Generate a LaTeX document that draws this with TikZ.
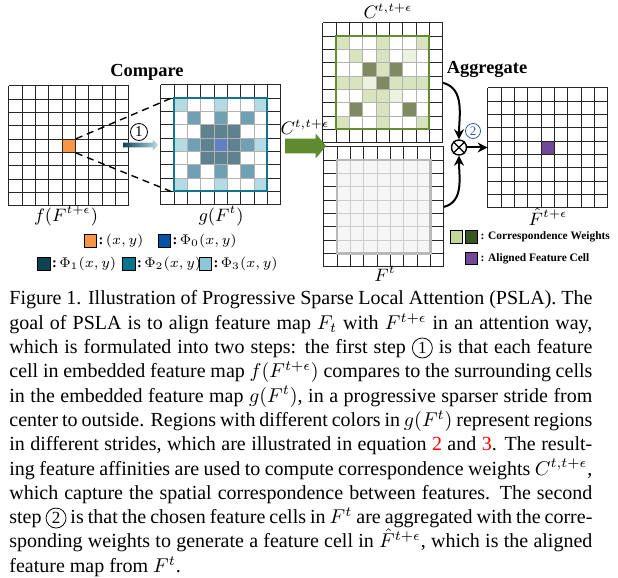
\documentclass[tikz,border=0pt]{standalone}
\usepackage{fontspec}
\setmainfont{Liberation Serif}
\usepackage{tikz}
\usetikzlibrary{positioning, shapes.arrows, arrows.meta}

\definecolor{keyorange}{RGB}{247,150,70}
\definecolor{phizero}{RGB}{0,82,164}
\definecolor{phione}{RGB}{12,68,84}
\definecolor{phitwo}{RGB}{0,118,140}
\definecolor{phithree}{RGB}{140,200,216}
\definecolor{gzero}{RGB}{96,128,196}
\definecolor{gone}{RGB}{94,130,144}
\definecolor{gtwo}{RGB}{112,160,180}
\definecolor{gthree}{RGB}{180,218,228}
\definecolor{gwinline}{RGB}{20,118,142}
\definecolor{wlight}{RGB}{215,228,190}
\definecolor{wfaint}{RGB}{236,242,224}
\definecolor{wdark}{RGB}{127,138,96}
\definecolor{wline}{RGB}{100,140,50}
\definecolor{flowgreen}{RGB}{96,138,46}
\definecolor{keylight}{RGB}{196,215,155}
\definecolor{keydark}{RGB}{55,86,35}
\definecolor{keypurple}{RGB}{112,72,150}
\definecolor{stepblue}{RGB}{50,90,170}

\tikzset{
	gridline/.style={line width=0.5pt, black!85},
	innerline/.style={line width=0.5pt, gray!60},
	mapbox/.style={rectangle, minimum size=59.85pt, inner sep=0pt},
	cellbox/.style={rectangle, minimum size=6.65pt, inner sep=0pt},
	winbox/.style={rectangle, draw, line width=1pt, minimum size=46.55pt, inner sep=0pt},
	keybox/.style={rectangle, draw, line width=0.4pt, minimum size=6.3pt, inner sep=0pt},
	keytext/.style={inner sep=0.5pt, font=\fontsize{7.2}{8}\selectfont},
	smallkey/.style={inner sep=1pt, font=\bfseries\fontsize{5.7}{6}\selectfont},
	maplabel/.style={inner sep=1pt, font=\fontsize{9}{10}\selectfont},
	flow/.style={-{Stealth[length=5pt, width=5pt]}, line width=1pt},
	stepnum/.style={circle, draw, inner sep=0pt, minimum size=8.5pt, font=\fontsize{7.5}{8}\selectfont},
	title/.style={font=\bfseries\fontsize{9.2}{10}\selectfont}
}

\newcommand\stepcirc[1]{\tikz[baseline=(sc.base)] \node[circle, draw, line width=0.4pt, inner sep=0pt, minimum size=10pt] (sc) {\fontsize{8.5}{9}\selectfont #1};}

\begin{document}
\begin{tikzpicture}[x=0.5pt, y=-0.5pt]
\useasboundingbox (0,0) rectangle (618,578);

% f(F^{t+e})
\begin{scope}[shift={(9,86)}]
\node[mapbox] (fmap) at (59.85,59.85) {};
\node[cellbox, fill=keyorange] (fcell) at (59.85,59.85) {};
\foreach \k in {0, ..., 9} {
	\draw[gridline] (\k*13.3,0) -- (\k*13.3,119.7);
	\draw[gridline] (0,\k*13.3) -- (119.7,\k*13.3);
}
\end{scope}

% g(F^t)
\begin{scope}[shift={(161,85)}]
\node[mapbox] (gmap) at (59.85,59.85) {};
\foreach \i/\j/\c in {1/1/gthree, 4/1/gthree, 7/1/gthree, 1/4/gthree, 7/4/gthree, 1/7/gthree, 4/7/gthree, 7/7/gthree,
	2/2/gtwo, 4/2/gtwo, 6/2/gtwo, 2/4/gtwo, 6/4/gtwo, 2/6/gtwo, 4/6/gtwo, 6/6/gtwo,
	3/3/gone, 4/3/gone, 5/3/gone, 3/4/gone, 5/4/gone, 3/5/gone, 4/5/gone, 5/5/gone, 4/4/gzero}
	\fill[\c] (\i*13.3,\j*13.3) rectangle ++(13.3,13.3);
\foreach \k in {0, ..., 9} {
	\draw[gridline] (\k*13.3,0) -- (\k*13.3,119.7);
	\draw[gridline] (0,\k*13.3) -- (119.7,\k*13.3);
}
\foreach \k in {2, ..., 7} {
	\draw[innerline] (\k*13.3,13.3) -- (\k*13.3,106.4);
	\draw[innerline] (13.3,\k*13.3) -- (106.4,\k*13.3);
}
\node[winbox, draw=gwinline] (gwin) at (59.85,59.85) {};
\end{scope}

% C^{t,t+e}
\begin{scope}[shift={(323,23)}]
\node[mapbox] (cmap) at (59.85,59.85) {};
\foreach \i/\j/\c in {1/1/wlight, 4/1/wlight, 7/1/wlight, 2/2/wlight, 4/2/wlight, 6/2/wfaint,
	3/3/wdark, 4/3/wlight, 5/3/wdark, 1/4/wlight, 2/4/wlight, 3/4/wfaint, 4/4/wdark, 5/4/wlight, 6/4/wlight, 7/4/wlight,
	3/5/wlight, 4/5/wlight, 5/5/wfaint, 2/6/wdark, 4/6/wlight, 6/6/wdark, 1/7/wlight, 4/7/wlight, 7/7/wlight}
	\fill[\c] (\i*13.3,\j*13.3) rectangle ++(13.3,13.3);
\foreach \k in {0, ..., 9} {
	\draw[gridline] (\k*13.3,0) -- (\k*13.3,119.7);
	\draw[gridline] (0,\k*13.3) -- (119.7,\k*13.3);
}
\foreach \k in {2, ..., 7} {
	\draw[innerline] (\k*13.3,13.3) -- (\k*13.3,106.4);
	\draw[innerline] (13.3,\k*13.3) -- (106.4,\k*13.3);
}
\node[winbox, draw=wline] (cwin) at (59.85,59.85) {};
\end{scope}

% F^t
\begin{scope}[shift={(324,147)}]
\node[mapbox] (tmap) at (59.85,59.85) {};
\fill[gray!7] (13.3,13.3) rectangle (106.4,106.4);
\foreach \k in {0, ..., 9} {
	\draw[gridline] (\k*13.3,0) -- (\k*13.3,119.7);
	\draw[gridline] (0,\k*13.3) -- (119.7,\k*13.3);
}
\foreach \k in {2, ..., 7} {
	\draw[innerline, gray!40] (\k*13.3,13.3) -- (\k*13.3,106.4);
	\draw[innerline, gray!40] (13.3,\k*13.3) -- (106.4,\k*13.3);
}
\draw[line width=1.2pt, gray!55] (13.3,13.3) rectangle (106.4,106.4);
\end{scope}

% hat F^{t+e}
\begin{scope}[shift={(488,88)}]
\node[mapbox] (omap) at (59.85,59.85) {};
\node[cellbox, fill=keypurple] (ocell) at (59.85,59.85) {};
\foreach \k in {0, ..., 9} {
	\draw[gridline] (\k*13.3,0) -- (\k*13.3,119.7);
	\draw[gridline] (0,\k*13.3) -- (119.7,\k*13.3);
}
\end{scope}

\draw[line width=0.7pt, dash pattern=on 3.5pt off 2.5pt] (fcell.north east) -- (gwin.north west);
\draw[line width=0.7pt, dash pattern=on 3.5pt off 2.5pt] (fcell.south east) -- (gwin.south west);

\node[title] (compare) at (147,72) {Compare};
\node[title] (aggregate) at (487,69) {Aggregate};
\node[single arrow, left color=phione, right color=phithree!60, minimum height=17.5pt, inner sep=1pt, single arrow head extend=1.5pt] (onearrow) at (139.5,145) {};
\node[stepnum] (one) at (139,132) {1};
\node[single arrow, fill=flowgreen, minimum height=20.5pt, inner sep=3.5pt, single arrow head extend=2.5pt, single arrow tip angle=100] (garrow) at (302.5,146) {};
\node[maplabel] (clabel) at (305,127) {$C^{t,t+\epsilon}$};
\node[maplabel] (ctop) at (388,11) {$C^{t,t+\epsilon}$};

\node[circle, draw, line width=0.7pt, minimum size=7.5pt, inner sep=0pt, fill=white] (agg) at (459,147.5) {};
\draw[line width=0.7pt] (agg.north east) -- (agg.south west) (agg.north west) -- (agg.south east);
\draw[flow] (cmap.east) to[out=-15, in=90] (agg.north);
\draw[flow] (tmap.east) to[out=15, in=-90] (agg.south);
\draw[flow] (agg.east) -- (agg.east -| omap.west);
\node[stepnum, draw=stepblue, text=stepblue, minimum size=7.5pt, font=\fontsize{6.5}{7}\selectfont] (two) at (473,131) {2};

\node[maplabel] (flabel) at (66,216) {$f(F^{t+\epsilon})$};
\node[maplabel] (glabel) at (221,216) {$g(F^t)$};
\node[maplabel] (tlabel) at (385,274) {$F^t$};
\node[maplabel] (olabel) at (548,217) {$\hat{F}^{t+\epsilon}$};

\node[keybox, fill=keyorange] (korange) at (90.5,241) {};
\node[keytext, right=0pt of korange] {\textbf{:}\,$(x,y)$};
\node[keybox, fill=phizero] (kzero) at (164.5,241) {};
\node[keytext, right=0pt of kzero] {\textbf{:}\,$\Phi_0(x,y)$};
\node[keybox, fill=phione] (kone) at (44,264) {};
\node[keytext, right=0pt of kone] {\textbf{:}\,$\Phi_1(x,y)$};
\node[keybox, fill=phitwo] (ktwo) at (129,264) {};
\node[keytext, right=0pt of ktwo] {\textbf{:}\,$\Phi_2(x,y)$};
\node[keybox, fill=phithree] (kthree) at (205.5,264) {};
\node[keytext, right=0pt of kthree] {\textbf{:}\,$\Phi_3(x,y)$};

\node[keybox, fill=keylight] (klight) at (456.5,237) {};
\node[keybox, fill=keydark] (kdark) at (471.5,237) {};
\node[smallkey, right=0pt of kdark] {: Correspondence Weights};
\node[keybox, fill=keypurple] (kpurple) at (471.5,258.5) {};
\node[smallkey, right=0pt of kpurple] {: Aligned Feature Cell};

\node[anchor=base west, text width=291.5pt, align=justify, inner sep=0pt, font=\fontsize{10}{12.15}\selectfont] (caption) at (9,305) {\emergencystretch=2em
Figure 1. Illustration of Progressive Sparse Local Attention (PSLA). The\linebreak
goal of PSLA is to align feature map $F_t$ with $F^{t+\epsilon}$ in an attention way,\linebreak
which is formulated into two steps: the first step \stepcirc{1} is that each feature\linebreak
cell in embedded feature map $f(F^{t+\epsilon})$ compares to the surrounding cells\linebreak
in the embedded feature map $g(F^t)$, in a progressive sparser stride from\linebreak
center to outside. Regions with different colors in $g(F^t)$ represent regions\linebreak
in different strides, which are illustrated in equation {\color{red}2} and {\color{red}3}. The result-\linebreak
ing feature affinities are used to compute correspondence weights $C^{t,t+\epsilon}$,\linebreak
which capture the spatial correspondence between features. The second\linebreak
step \stepcirc{2} is that the chosen feature cells in $F^t$ are aggregated with the corre-\linebreak
sponding weights to generate a feature cell in $\hat{F}^{t+\epsilon}$, which is the aligned\linebreak
feature map from $F^t$.};
\end{tikzpicture}
\end{document}
